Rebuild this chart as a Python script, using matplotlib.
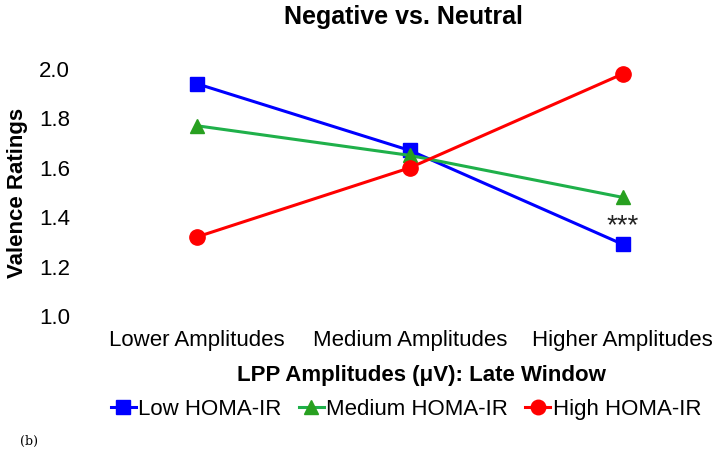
import matplotlib.pyplot as plt

plt.rcParams['font.family'] = ['Liberation Sans', 'DejaVu Sans']

# data
categories = ["Lower Amplitudes", "Medium Amplitudes", "Higher Amplitudes"]
low_homa = [1.94, 1.67, 1.29]
medium_homa = [1.77, 1.65, 1.48]
high_homa = [1.32, 1.60, 1.98]
y_ticks = [1.0, 1.2, 1.4, 1.6, 1.8, 2.0]

fig = plt.figure(figsize=(7.21, 4.55), dpi=100)
ax = fig.add_axes([0.155, 0.3055, 0.827, 0.543])

x = range(len(categories))
ax.plot(x, low_homa, color="#0000FF", marker="s", markersize=10, lw=2.2,
        label="Low HOMA-IR", clip_on=False, zorder=3)
ax.plot(x, medium_homa, color="#1FB04A", marker="^", markersize=10, lw=2.2,
        markerfacecolor="#28A020", markeredgecolor="#28A020",
        label="Medium HOMA-IR", clip_on=False, zorder=3)
ax.plot(x, high_homa, color="#FF0000", marker="o", markersize=11, lw=2.2,
        label="High HOMA-IR", clip_on=False, zorder=3)

ax.annotate("***", xy=(2, low_homa[2]), xytext=(0, 13), textcoords="offset points",
            ha="center", va="center", fontsize=20, color="#222222")

ax.set_xlim(-0.4, 2.4)
ax.set_ylim(1.0, 2.0)
ax.set_xticks(list(x))
ax.set_xticklabels(categories, fontsize=16)
ax.set_yticks(y_ticks)
ax.set_yticklabels([f"{v:.1f}" for v in y_ticks], fontsize=16)
ax.tick_params(axis="x", length=0, pad=10)
ax.tick_params(axis="y", length=0, pad=30)
for s in ax.spines.values():
    s.set_visible(False)

ax.set_ylabel("Valence Ratings", fontsize=16, fontweight="bold", labelpad=8)
ax.set_xlabel("LPP Amplitudes (μV): Late Window", fontsize=16, fontweight="bold")
ax.xaxis.set_label_coords(0.52, -0.2)
fig.text(0.559, 0.962, "Negative vs. Neutral", ha="center", va="center",
         fontsize=18, fontweight="bold")

fig.legend(loc="center", bbox_to_anchor=(0.563, 0.1), ncol=3, frameon=False,
           fontsize=16, handlelength=1.15, handletextpad=0.1, columnspacing=0.75,
           markerscale=0.95)

fig.text(0.028, 0.03, "(b)", fontsize=9, family="DejaVu Serif", va="center")

fig.savefig("out.png", dpi=100)
